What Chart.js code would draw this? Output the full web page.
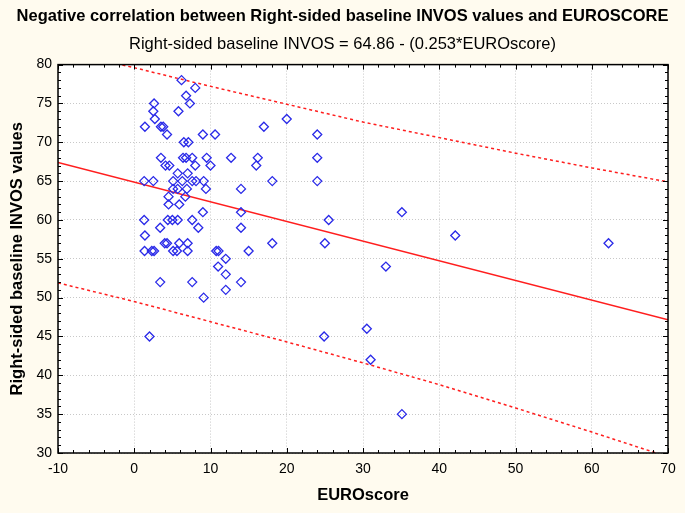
<!DOCTYPE html>
<html>
<head>
<meta charset="utf-8">
<script src="https://cdn.jsdelivr.net/npm/chart.js@4"></script>
<style>
html, body { margin: 0; padding: 0; background: #fffbef; }
#wrap { width: 685px; height: 513px; }
</style>
</head>
<body>
<div id="wrap"><canvas id="canvas" width="685" height="513"></canvas></div>
<script>
// EUROscore (x) and right-sided baseline INVOS (y)
var euroscore = [
    6.2, 8.0, 6.8, 7.3, 2.6, 5.8, 2.5, 2.7, 20.0, 1.4,
    3.5, 3.8, 17.0, 4.3, 9.0, 10.6, 24.0, 6.5, 7.1,
    3.5, 6.4, 6.8, 7.6, 9.5, 12.7, 16.2, 24.0,
    4.1, 4.6, 8.0, 10.0, 16.0,
    5.7, 7.0,
    1.3, 2.5, 5.1, 6.3, 7.6, 8.1, 9.1, 18.1, 24.0,
    5.1, 5.7, 6.9, 9.4, 14.0,
    4.5, 6.7,
    4.5, 5.9,
    9.0, 14.0, 35.1,
    1.3, 4.4, 5.0, 5.7, 7.6, 25.5,
    3.4, 8.4, 14.0,
    1.4, 42.1,
    4.0, 4.3, 5.9, 7.0, 18.1, 25.0, 62.2,
    1.35, 2.3, 2.6, 5.1, 5.6, 7.0, 10.75, 11.05, 15.0,
    12.0,
    11.0, 33.0,
    12.0,
    3.4, 7.6, 14.0,
    12.0,
    9.1,
    30.5,
    2.0, 24.9,
    31.0,
    35.1
];
var invos = [
    78, 77, 76, 75, 75, 74, 74, 73, 73, 72,
    72, 72, 72, 71, 71, 71, 71, 70, 70,
    68, 68, 68, 68, 68, 68, 68, 68,
    67, 67, 67, 67, 67,
    66, 66,
    65, 65, 65, 65, 65, 65, 65, 65, 65,
    64, 64, 64, 64, 64,
    63, 63,
    62, 62,
    61, 61, 61,
    60, 60, 60, 60, 60, 60,
    59, 59, 59,
    58, 58,
    57, 57, 57, 57, 57, 57, 57,
    56, 56, 56, 56, 56, 56, 56, 56, 56,
    55,
    54, 54,
    53,
    52, 52, 52,
    51,
    50,
    46,
    45, 45,
    42,
    35
];

// regression line and its prediction band
var fitX = [-10, 70];
var fitY = [67.39, 47.15];
var bandX = [-10, 0, 10, 20, 30, 40, 50, 60, 70];
var bandUpper = [81.8, 79.6, 77.2, 74.9, 72.6, 70.6, 68.6, 66.7, 64.9];
var bandLower = [51.9, 49.5, 46.9, 44.3, 41.6, 38.8, 35.8, 32.7, 29.5];

function pairs(xs, ys) {
    return xs.map(function (x, i) { return { x: x, y: ys[i] }; });
}

var frame = {
    id: 'frame',
    beforeDraw: function (chart) {
        var c = chart.ctx, a = chart.chartArea;
        c.save();
        c.fillStyle = '#fffbef';
        c.fillRect(0, 0, chart.width, chart.height);
        c.fillStyle = '#ffffff';
        c.fillRect(a.left, a.top, a.right - a.left, a.bottom - a.top);
        c.restore();
    },
    afterDatasetsDraw: function (chart) {
        var c = chart.ctx, a = chart.chartArea;
        var xs = chart.scales.x, ys = chart.scales.y;
        c.save();
        c.strokeStyle = '#000';
        c.lineWidth = 1;
        c.beginPath();
        for (var v = -10; v <= 70; v += 2) {
            var px = Math.round(xs.getPixelForValue(v)) + 0.5;
            var len = v % 10 === 0 ? 5 : 3;
            c.moveTo(px, a.bottom); c.lineTo(px, a.bottom - len);
            c.moveTo(px, a.top); c.lineTo(px, a.top + len);
        }
        for (var w = 30; w <= 80; w += 1) {
            var py = Math.round(ys.getPixelForValue(w)) + 0.5;
            var l2 = w % 5 === 0 ? 5 : 3;
            c.moveTo(a.left, py); c.lineTo(a.left + l2, py);
            c.moveTo(a.right, py); c.lineTo(a.right - l2, py);
        }
        c.stroke();
        c.lineWidth = 1.5;
        c.strokeRect(a.left, a.top, a.right - a.left, a.bottom - a.top);
        c.restore();
    }
};

Chart.defaults.font.family = "'Liberation Sans', Arial, sans-serif";
Chart.defaults.color = '#000';

window.onload = function () {
    var ctx = document.getElementById("canvas").getContext("2d");
    window.InvosChart = new Chart(ctx, {
        type: 'scatter',
        data: {
            datasets: [
                {
                    data: pairs(euroscore, invos),
                    pointStyle: 'rectRot',
                    pointRadius: 4.5,
                    borderWidth: 1.3,
                    borderColor: '#2a2ae8',
                    backgroundColor: 'rgba(0,0,0,0)'
                },
                {
                    data: pairs(fitX, fitY),
                    showLine: true,
                    pointRadius: 0,
                    borderColor: '#ff1e1e',
                    borderWidth: 1.5
                },
                {
                    data: pairs(bandX, bandUpper),
                    showLine: true,
                    pointRadius: 0,
                    borderColor: '#ff1e1e',
                    borderWidth: 1.5,
                    borderDash: [3, 3]
                },
                {
                    data: pairs(bandX, bandLower),
                    showLine: true,
                    pointRadius: 0,
                    borderColor: '#ff1e1e',
                    borderWidth: 1.5,
                    borderDash: [3, 3]
                }
            ]
        },
        options: {
            responsive: false,
            animation: false,
            layout: { padding: 0 },
            plugins: {
                legend: { display: false },
                tooltip: { enabled: false },
                title: {
                    display: true,
                    text: 'Negative correlation between Right-sided baseline INVOS values and EUROSCORE',
                    font: { size: 16.5, weight: 'bold' },
                    padding: { top: 7, bottom: 8 }
                },
                subtitle: {
                    display: true,
                    text: 'Right-sided baseline INVOS = 64.86 - (0.253*EUROscore)',
                    font: { size: 16.5 },
                    color: '#000',
                    padding: { top: 0, bottom: 10 }
                }
            },
            scales: {
                x: {
                    min: -10,
                    max: 70,
                    ticks: { stepSize: 10, font: { size: 14 }, padding: 8 },
                    grid: { color: '#c8c8c8', drawTicks: false },
                    border: { display: false, dash: [1, 2] },
                    title: {
                        display: true,
                        text: 'EUROscore',
                        font: { size: 16.5, weight: 'bold' },
                        padding: { top: 4, bottom: 8 }
                    },
                    afterFit: function (scale) { scale.height = 60; }
                },
                y: {
                    min: 30,
                    max: 80,
                    ticks: { stepSize: 5, font: { size: 14 }, padding: 6 },
                    grid: { color: '#c8c8c8', drawTicks: false },
                    border: { display: false, dash: [1, 2] },
                    title: {
                        display: true,
                        text: 'Right-sided baseline INVOS values',
                        font: { size: 16.5, weight: 'bold' },
                        padding: { top: 8, bottom: 0 }
                    },
                    afterFit: function (scale) { scale.width = 58; }
                },
                yRight: {
                    position: 'right',
                    min: 30,
                    max: 80,
                    ticks: { display: false },
                    grid: { display: false, drawTicks: false },
                    border: { display: false },
                    afterFit: function (scale) { scale.width = 17; }
                }
            }
        },
        plugins: [frame]
    });
};
</script>
</body>
</html>
